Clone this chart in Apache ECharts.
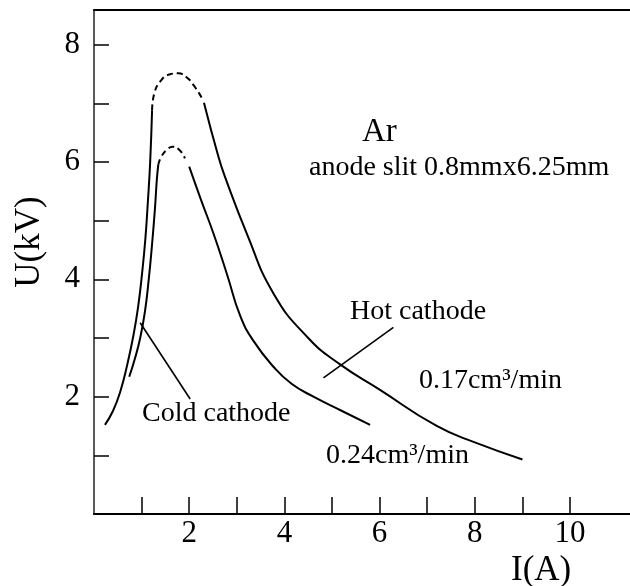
<!DOCTYPE html>
<html>
<head>
<meta charset="utf-8">
<script src="https://cdn.jsdelivr.net/npm/echarts@6/dist/echarts.min.js"></script>
<style>
html,body{margin:0;padding:0;background:#fff;}
#main{width:630px;height:586px;}
</style>
</head>
<body>
<div id="main"></div>
<script>
// ---- data ----
const xTickValues = [1,2,3,4,5,6,7,8,9,10];
const xLabelValues = [2,4,6,8,10];
const yTickValues = [1,2,3,4,5,6,7,8];
const yLabelValues = [2,4,6,8];

// 0.17 cm3/min curve (outer)
const a_rise = [[0.23,1.52],[0.4,1.76],[0.55,2.08],[0.7,2.55],[0.83,3.05],[0.93,3.55],[1.01,4.1],[1.08,4.7],[1.13,5.3],[1.18,6.0],[1.22,6.88]];
const a_peak = [[1.22,6.88],[1.27,7.18],[1.4,7.38],[1.58,7.49],[1.77,7.51],[1.95,7.44],[2.1,7.3],[2.26,7.1]];
const a_fall = [[2.31,7.01],[2.61,6.1],[2.75,5.75],[3.21,4.78],[3.77,3.76],[4.5,3.0],[5.17,2.55],[6.0,2.12],[7.2,1.5],[8.0,1.22],[9.0,0.93]];

// 0.24 cm3/min curve (inner)
const b_rise = [[0.74,2.34],[0.86,2.65],[0.97,3.0],[1.07,3.45],[1.15,4.0],[1.22,4.6],[1.28,5.2],[1.32,5.7],[1.35,5.95]];
const b_peak = [[1.35,5.95],[1.42,6.1],[1.56,6.23],[1.65,6.26],[1.81,6.19],[1.91,6.06]];
const b_fall = [[2.0,5.92],[2.25,5.35],[2.51,4.78],[2.8,4.07],[3.07,3.38],[3.35,2.95],[3.77,2.51],[4.15,2.22],[4.61,2.0],[5.2,1.76],[5.8,1.52]];

// annotation pointer lines
const coldPointer = [[0.97,3.26],[2.02,1.96]];
const hotPointer = [[4.82,2.32],[6.29,3.18]];

const xMin = 0, xMax = 11.26, yMin = 0, yMax = 8.59;

const FONT = '"Liberation Serif", "DejaVu Serif", serif';

const chart = echarts.init(document.getElementById('main'), null, {renderer:'canvas'});

function line(data, dashed) {
  return {
    type: 'line', data: data, symbol: 'none', smooth: 0.5,
    lineStyle: {color: '#000', width: 2, type: dashed ? [6,4] : 'solid'},
    silent: true, animation: false
  };
}
function straight(data) {
  return {
    type: 'line', data: data, symbol: 'none',
    lineStyle: {color: '#000', width: 1.6},
    silent: true, animation: false
  };
}

const option = {
  backgroundColor: '#fff',
  animation: false,
  grid: {left: 94, right: 0, top: 10, bottom: 72, containLabel: false},
  xAxis: [{
    type: 'value', min: xMin, max: xMax,
    axisLine: {show: true, onZero: false, lineStyle: {color: '#000', width: 2}},
    axisTick: {show: true, inside: true, length: 17, customValues: xTickValues, lineStyle: {color: '#000', width: 1.5}},
    axisLabel: {show: true, customValues: xLabelValues, margin: 4, color: '#000', fontFamily: FONT, fontSize: 31},
    splitLine: {show: false}
  }, {
    type: 'value', position: 'top', min: xMin, max: xMax,
    axisLine: {show: true, onZero: false, lineStyle: {color: '#000', width: 2}},
    axisTick: {show: false}, axisLabel: {show: false}, splitLine: {show: false}
  }],
  yAxis: [{
    type: 'value', min: yMin, max: yMax,
    axisLine: {show: true, onZero: false, lineStyle: {color: '#222', width: 1.5}},
    axisTick: {show: true, inside: true, length: 15, customValues: yTickValues, lineStyle: {color: '#000', width: 1.5}},
    axisLabel: {show: true, customValues: yLabelValues, margin: 14, color: '#000', fontFamily: FONT, fontSize: 31},
    splitLine: {show: false}
  }],
  graphic: [
    {type:'text', left: 362, top: 116, style:{text:'Ar', font:'33px ' + FONT, fill:'#000'}},
    {type:'text', left: 309, top: 154, style:{text:'anode slit 0.8mmx6.25mm', font:'28px ' + FONT, fill:'#000'}},
    {type:'text', left: 350, top: 298, style:{text:'Hot cathode', font:'28px ' + FONT, fill:'#000'}},
    {type:'text', left: 142, top: 400, style:{text:'Cold cathode', font:'28px ' + FONT, fill:'#000'}},
    {type:'text', left: 419, top: 367, style:{text:'0.17cm³/min', font:'28px ' + FONT, fill:'#000'}},
    {type:'text', left: 326, top: 442, style:{text:'0.24cm³/min', font:'28px ' + FONT, fill:'#000'}},
    {type:'text', left: 511, top: 553, style:{text:'I(A)', font:'35px ' + FONT, fill:'#000'}},
    {type:'text', x: 30, y: 242, rotation: Math.PI/2,
      style:{text:'U(kV)', font:'35px ' + FONT, fill:'#000', align:'center', verticalAlign:'middle'}}
  ],
  series: [
    line(a_rise, false), line(a_peak, true), line(a_fall, false),
    line(b_rise, false), line(b_peak, true), line(b_fall, false),
    straight(coldPointer), straight(hotPointer)
  ]
};
chart.setOption(option);
</script>
</body>
</html>
